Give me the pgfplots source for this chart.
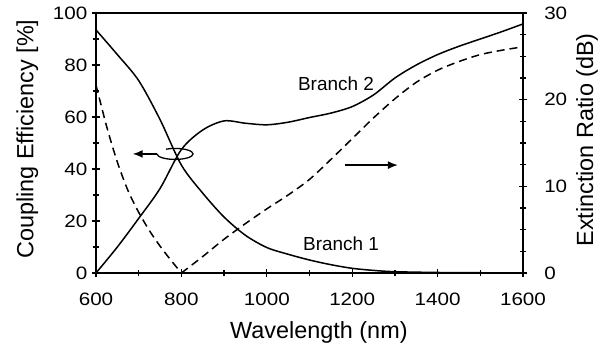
\documentclass[border=0pt]{standalone}
\usepackage{fontspec}
\setmainfont{Liberation Sans}
\usepackage{pgfplots}
\pgfplotsset{compat=1.18}
\usetikzlibrary{arrows.meta}
\begin{document}
\begin{tikzpicture}
\useasboundingbox (-96bp,-82bp) rectangle (504bp,273bp);
\pgfplotsset{
  every axis/.append style={
    scale only axis, width=427bp, height=260bp,
    line width=1.4bp,
    tick align=center,
    major tick length=8bp, minor tick length=6bp,
    every tick/.style={line width=1.3bp, black},
    /pgf/number format/assume math mode=true,
    tick label style={font=\fontsize{18}{18}\selectfont, xscale=1.15},
  }
}
\begin{axis}[
  xmin=600, xmax=1600, ymin=0, ymax=100,
  xtick={600,800,1000,1200,1400,1600}, minor x tick num=1,
  ytick={0,20,40,60,80,100}, minor y tick num=1,
  xtick pos=bottom, ytick pos=left,
  xticklabel style={yshift=-12bp},
  /pgf/number format/1000 sep={},
  clip=false,
]
% Branch 1
\addplot[black, line width=1.5bp, smooth] coordinates {
(600,93.5) (650,84) (700,74) (750,59) (800,41.5) (850,30.7) (900,21.5) (950,14.5) (1000,9.8) (1050,7.2) (1100,5.0) (1150,3.2) (1200,1.8) (1250,1.0) (1300,0.5) (1400,0.2) (1500,0.1) (1600,0)
};
% Branch 2
\addplot[black, line width=1.5bp, smooth] coordinates {
(600,0) (650,10) (700,21) (750,32.5) (800,47.5) (850,55) (900,58.5) (950,57.6) (1000,57) (1050,58) (1100,59.8) (1150,61.5) (1200,64) (1250,68.5) (1300,75) (1350,80) (1400,84) (1450,87.2) (1500,90) (1550,92.8) (1600,95.8)
};
\node[font=\fontsize{19}{19}\selectfont] at (axis cs:1162,72.7) {Branch 2};
\node[font=\fontsize{19}{19}\selectfont] at (axis cs:1174,11.2) {Branch 1};
\draw[line width=1.5bp, -{Latex[length=10bp,width=8bp]}] (axis cs:743,45.8) -- (axis cs:686,45.8);
\draw[line width=1.3bp] (axis cs:743,45.8) arc[start angle=180, end angle=480, x radius=18bp, y radius=5.5bp];
\draw[line width=1.5bp, -{Latex[length=10bp,width=8bp]}] (axis cs:1183,41.5) -- (axis cs:1307,41.5);
\node[font=\fontsize{23.5}{23.5}\selectfont, rotate=90] at (axis description cs:-0.161,0.515) {Coupling Efficiency [\%]};
\node[font=\fontsize{23.5}{23.5}\selectfont] at (axis description cs:0.522,-0.23) {Wavelength (nm)};
\end{axis}
\begin{axis}[
  xmin=600, xmax=1600, ymin=0, ymax=30,
  axis x line=none, axis y line*=right,
  ytick={0,10,20,30}, minor y tick num=3,
  yticklabel style={xshift=11bp},
  clip=false,
]
\addplot[black, line width=1.5bp, dash pattern=on 8bp off 5bp, smooth] coordinates {
(600,21.7) (625,16.9) (650,12.8) (675,9.5) (700,7.0) (725,4.9) (750,3.1) (775,1.5) (800,0)
};
\addplot[black, line width=1.5bp, dash pattern=on 8bp off 5bp, smooth] coordinates {
(800,0) (850,1.9) (900,3.9) (950,5.7) (1000,7.4) (1050,9.0) (1100,10.8) (1150,13.1) (1200,15.5) (1250,17.9) (1300,20.1) (1350,22.0) (1400,23.4) (1450,24.4) (1500,25.2) (1550,25.7) (1600,26.1)
};
\node[font=\fontsize{23.5}{23.5}\selectfont, rotate=90] at (axis description cs:1.15,0.512) {Extinction Ratio (dB)};
\end{axis}
\end{tikzpicture}
\end{document}
